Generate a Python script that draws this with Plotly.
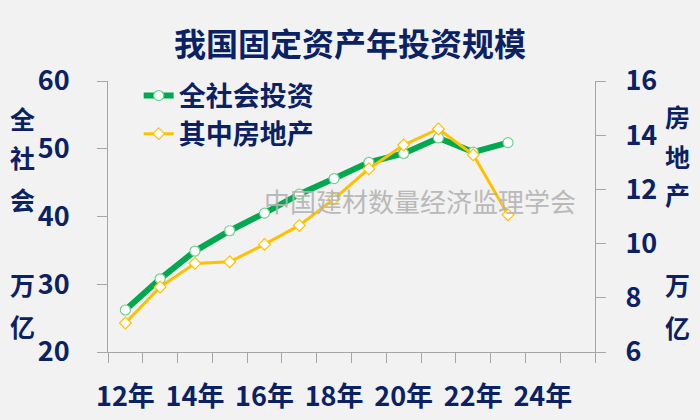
import plotly.graph_objects as go

years = list(range(2012, 2024))
total_invest = [26.2, 30.8, 34.9, 37.9, 40.5, 43.3, 45.6, 48.0, 49.3, 51.6, 49.5, 50.9]
real_estate = [7.07, 8.4, 9.27, 9.33, 9.97, 10.67, 11.65, 12.76, 13.64, 14.23, 13.28, 11.06]
tick_years = [2012, 2014, 2016, 2018, 2020, 2022, 2024]
tick_labels = ["12年", "14年", "16年", "18年", "20年", "22年", "24年"]
left_ticks = [20, 30, 40, 50, 60]
right_ticks = [6, 8, 10, 12, 14, 16]

NAVY = "#0a2164"
GREEN = "#00a94f"
GOLD = "#ffc000"
AXIS = "#a6a6a6"
BG = "#f2f2f2"
FONT = "Noto Sans CJK SC"

fig = go.Figure()
fig.add_trace(go.Scatter(
    x=years, y=total_invest, name="全社会投资", mode="lines+markers",
    line=dict(color=GREEN, width=6),
    marker=dict(symbol="circle", size=10, color="white", line=dict(color="#6fd08f", width=1.2)),
    yaxis="y"))
fig.add_trace(go.Scatter(
    x=years, y=real_estate, name="其中房地产", mode="lines+markers",
    line=dict(color=GOLD, width=3),
    marker=dict(symbol="diamond", size=9, color="white", line=dict(color=GOLD, width=1.2)),
    yaxis="y2"))

tickfont = dict(family=FONT, size=27, color=NAVY, weight="bold")

fig.update_layout(
    width=700, height=420,
    margin=dict(l=108, r=105, t=81, b=68, autoexpand=False),
    paper_bgcolor=BG, plot_bgcolor=BG,
    showlegend=True,
    legend=dict(x=0.063, y=1.035, xanchor="left", yanchor="top", bgcolor="rgba(0,0,0,0)",
                itemwidth=30, tracegroupgap=0,
                font=dict(family=FONT, size=27, color=NAVY, weight="bold")),
    xaxis=dict(range=[2011.5, 2025.5], tickvals=tick_years, ticktext=tick_labels,
               ticks="", showgrid=False, zeroline=False, showline=True, automargin=False,
               linecolor=AXIS, linewidth=1, tickfont=tickfont, ticklabelstandoff=21,
               minor=dict(ticks="outside", tick0=2011.5, dtick=1, ticklen=10,
                          tickcolor=AXIS, showgrid=False)),
    yaxis=dict(range=[20, 60], tickvals=left_ticks, showgrid=False, zeroline=False,
               showline=True, linecolor=AXIS, ticks="outside", ticklen=10, tickcolor=AXIS,
               tickfont=tickfont, ticklabelstandoff=22, automargin=False),
    yaxis2=dict(range=[6, 16], tickvals=right_ticks, overlaying="y", side="right",
                showgrid=False, zeroline=False, showline=True, linecolor=AXIS,
                ticks="outside", ticklen=10, tickcolor=AXIS, tickfont=tickfont,
                ticklabelstandoff=14, automargin=False),
)

fig.add_annotation(text="我国固定资产年投资规模", xref="paper", yref="paper",
                   x=(350 - 108) / 487, y=1 + (81 - 42) / 271, showarrow=False,
                   xanchor="center", yanchor="middle",
                   font=dict(family=FONT, size=32, color=NAVY, weight="bold"))

fig.add_annotation(text="中国建材数量经济监理学会", xref="paper", yref="paper",
                   x=(420 - 108) / 487, y=1 - (200 - 81) / 271, showarrow=False,
                   xanchor="center", yanchor="middle",
                   font=dict(family=FONT, size=26, color="#b3b3b3"), opacity=0.9)

def ypaper(py):
    return 1 - (py - 81) / 271

for ch, py in zip(["全", "社", "会", "万", "亿"], [118, 157, 199, 284, 326]):
    fig.add_annotation(text=ch, xref="paper", yref="paper", x=(22 - 108) / 487, y=ypaper(py),
                       showarrow=False, xanchor="center", yanchor="middle",
                       font=dict(family=FONT, size=25, color=NAVY, weight="bold"))
for ch, py in zip(["房", "地", "产", "万", "亿"], [116, 156, 194, 284, 327]):
    fig.add_annotation(text=ch, xref="paper", yref="paper", x=(677 - 108) / 487, y=ypaper(py),
                       showarrow=False, xanchor="center", yanchor="middle",
                       font=dict(family=FONT, size=25, color=NAVY, weight="bold"))

fig.write_html("out.html", config={"displayModeBar": False},
               post_script="document.body.style.margin='0';document.body.style.background='#f2f2f2';")
